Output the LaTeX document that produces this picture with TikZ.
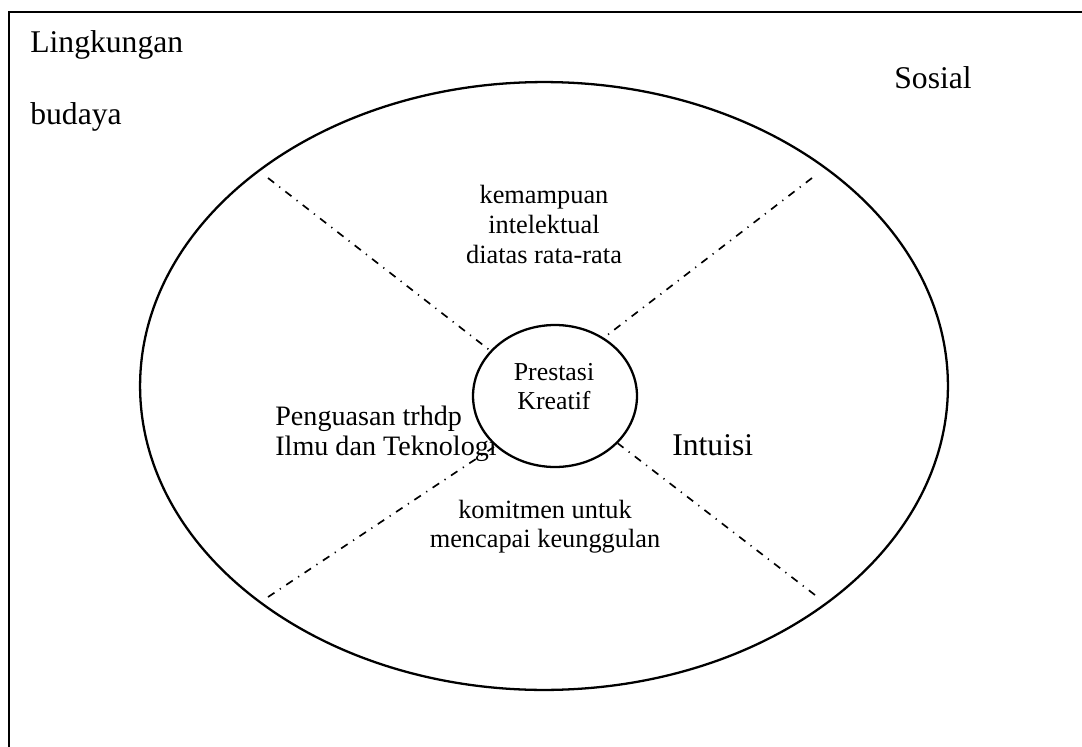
\documentclass[tikz,border=0pt]{standalone}
\usepackage{fontspec}
\setmainfont{Liberation Serif}
\usetikzlibrary{shapes.geometric}

\begin{document}
\begin{tikzpicture}[x=0.02cm, y=-0.02cm,
                    bigtxt/.style={inner sep=0pt, anchor=base west, font=\fontsize{18}{20}\selectfont},
                    midtxt/.style={inner sep=0pt, anchor=base, align=center, font=\fontsize{15}{17}\selectfont},
                    ring/.style={draw, ellipse, inner sep=0pt, line width=1.3pt},
                    dashdot/.style={line width=0.95pt, dash pattern=on 4.4pt off 3.7pt on 0.7pt off 3.7pt}]
                    \useasboundingbox (0,0) rectangle (1082,747);
                    \clip (0,0) rectangle (1082,747);

                    % frame
                    \draw[line width=1.5pt] (9,12) rectangle (1100,770);

                    \node[bigtxt] (lingkungan) at (30,52) {Lingkungan};
                    \node[bigtxt] (budaya) at (30,124) {budaya};
                    \node[bigtxt] (sosial) at (894,88) {Sosial};

                    \node[ring, minimum width=16.16cm, minimum height=12.16cm] (outer) at (544,386) {};

                    \node[midtxt] (intelek) at (544,263) {kemampuan\\intelektual\\diatas rata-rata};
                    \node[inner sep=0pt, anchor=base west, align=left,
                          font=\fontsize{16}{17}\selectfont] (ilmu) at (275,455) {Penguasan trhdp\\Ilmu dan Teknologi};
                    \node[bigtxt] (intuisi) at (672,455) {Intuisi};
                    \node[midtxt, font=\fontsize{15}{16.5}\selectfont] (komitmen) at (545,547) {komitmen untuk\\mencapai keunggulan};

                    \coordinate (tl) at (268,178);
                    \coordinate (tr) at (812,178);
                    \coordinate (bl) at (268,597);
                    \coordinate (br) at (815,595);

                    \node[ring, fill=white, minimum width=3.28cm, minimum height=2.84cm] (core) at (555,396) {};
                    \node[midtxt, font=\fontsize{14.7}{16.5}\selectfont] (prestasi) at (554,409) {Prestasi\\Kreatif};

                    \draw[dashdot] (tl) -- (core.145);
                    \draw[dashdot] (tr) -- (core.50);
                    \draw[dashdot] (bl) -- (core.220);
                    \draw[dashdot] (br) -- (core.-37);
                \end{tikzpicture}
\end{document}
